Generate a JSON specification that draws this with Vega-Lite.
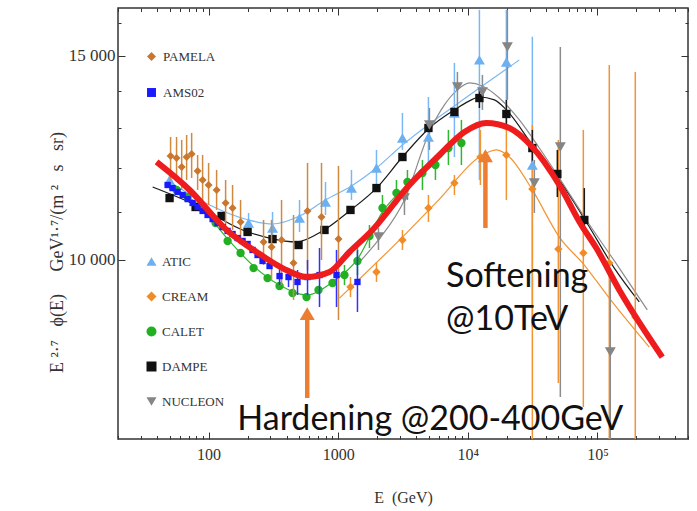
{
  "$schema": "https://vega.github.io/schema/vega-lite/v6.json",
  "width": 570,
  "height": 431,
  "autosize": "none",
  "padding": {"left": 118, "top": 8, "right": 9, "bottom": 72},
  "background": "white",
  "config": {
    "view": {"stroke": "#333", "strokeWidth": 1.5},
    "axis": {"domain": false, "grid": false, "tickColor": "#333", "tickWidth": 1, "labelFont": "Liberation Serif", "titleFont": "Liberation Serif", "labelColor": "#333", "titleColor": "#333", "titleFontWeight": "normal", "labelOverlap": false, "labelFlush": false},
    "legend": {"labelFont": "Liberation Serif", "labelFontSize": 13, "labelColor": "#333"}
  },
  "datasets": {
    "ptsA": [
      {"series": "PAMELA", "E": 50.9, "F": 12292}, {"series": "PAMELA", "E": 56.6, "F": 12242}, {"series": "PAMELA", "E": 62.0, "F": 12025}, {"series": "PAMELA", "E": 67.7, "F": 12267}, {"series": "PAMELA", "E": 74.0, "F": 12341}, {"series": "PAMELA", "E": 82.3, "F": 11932}, {"series": "PAMELA", "E": 89.9, "F": 11720}, {"series": "PAMELA", "E": 100, "F": 11603}, {"series": "PAMELA", "E": 115.3, "F": 11489}, {"series": "PAMELA", "E": 135.3, "F": 11195}, {"series": "PAMELA", "E": 153.1, "F": 11083}, {"series": "PAMELA", "E": 176.5, "F": 10780}, {"series": "PAMELA", "E": 265.5, "F": 10360}, {"series": "PAMELA", "E": 306, "F": 10255}, {"series": "PAMELA", "E": 365.5, "F": 10401}, {"series": "PAMELA", "E": 452.2, "F": 9935}, {"series": "PAMELA", "E": 579.9, "F": 11019}, {"series": "PAMELA", "E": 743.5, "F": 10886}, {"series": "PAMELA", "E": 1005, "F": 10419},
      {"series": "AMS02", "E": 48.3, "F": 11603}, {"series": "AMS02", "E": 52.7, "F": 11532}, {"series": "AMS02", "E": 57.6, "F": 11443}, {"series": "AMS02", "E": 63.1, "F": 11374}, {"series": "AMS02", "E": 68.9, "F": 11282}, {"series": "AMS02", "E": 75.3, "F": 11195}, {"series": "AMS02", "E": 82.3, "F": 11106}, {"series": "AMS02", "E": 89.9, "F": 11019}, {"series": "AMS02", "E": 98.2, "F": 10931}, {"series": "AMS02", "E": 107.4, "F": 10842}, {"series": "AMS02", "E": 117.3, "F": 10758}, {"series": "AMS02", "E": 128.3, "F": 10671}, {"series": "AMS02", "E": 140.2, "F": 10589}, {"series": "AMS02", "E": 153.1, "F": 10525}, {"series": "AMS02", "E": 167.4, "F": 10440}, {"series": "AMS02", "E": 182.9, "F": 10380}, {"series": "AMS02", "E": 199.9, "F": 10318}, {"series": "AMS02", "E": 218.4, "F": 10196}, {"series": "AMS02", "E": 238.7, "F": 10094}, {"series": "AMS02", "E": 260.8, "F": 9975}, {"series": "AMS02", "E": 295.3, "F": 9875}, {"series": "AMS02", "E": 352.7, "F": 9680}, {"series": "AMS02", "E": 413.8, "F": 9661}, {"series": "AMS02", "E": 485.5, "F": 9567}, {"series": "AMS02", "E": 579.9, "F": 9661}, {"series": "AMS02", "E": 717.5, "F": 9700}, {"series": "AMS02", "E": 970.3, "F": 9700}, {"series": "AMS02", "E": 1408, "F": 9567}
    ],
    "barsA": [
      {"series": "PAMELA", "E": 50.9, "lo": 11720, "hi": 12766}, {"series": "PAMELA", "E": 56.6, "lo": 11673, "hi": 12766}, {"series": "PAMELA", "E": 62.0, "lo": 11489, "hi": 12691}, {"series": "PAMELA", "E": 67.7, "lo": 11720, "hi": 12817}, {"series": "PAMELA", "E": 74.0, "lo": 11765, "hi": 12869}, {"series": "PAMELA", "E": 82.3, "lo": 11489, "hi": 12317}, {"series": "PAMELA", "E": 89.9, "lo": 11263, "hi": 12317}, {"series": "PAMELA", "E": 100, "lo": 11150, "hi": 12123}, {"series": "PAMELA", "E": 115.3, "lo": 11041, "hi": 11956}, {"series": "PAMELA", "E": 135.3, "lo": 10715, "hi": 11720}, {"series": "PAMELA", "E": 153.1, "lo": 10610, "hi": 11603}, {"series": "PAMELA", "E": 176.5, "lo": 10401, "hi": 11263}, {"series": "PAMELA", "E": 265.5, "lo": 9895, "hi": 10823}, {"series": "PAMELA", "E": 306, "lo": 9605, "hi": 10823}, {"series": "PAMELA", "E": 365.5, "lo": 9509, "hi": 11263}, {"series": "PAMELA", "E": 452.2, "lo": 9231, "hi": 10931}, {"series": "PAMELA", "E": 579.9, "lo": 9798, "hi": 12123}, {"series": "PAMELA", "E": 743.5, "lo": 9995, "hi": 12123}, {"series": "PAMELA", "E": 1005, "lo": 8870, "hi": 12050},
      {"series": "AMS02", "E": 352.7, "lo": 9509, "hi": 9835}, {"series": "AMS02", "E": 413.8, "lo": 9471, "hi": 9835}, {"series": "AMS02", "E": 485.5, "lo": 9322, "hi": 9798}, {"series": "AMS02", "E": 579.9, "lo": 9322, "hi": 9995}, {"series": "AMS02", "E": 717.5, "lo": 9102, "hi": 10236}, {"series": "AMS02", "E": 970.3, "lo": 9102, "hi": 10196}, {"series": "AMS02", "E": 1408, "lo": 9013, "hi": 10196}
    ],
    "ptsB": [
      {"series": "ATIC", "E": 50.0, "F": 11720}, {"series": "ATIC", "E": 203.4, "F": 10758}, {"series": "ATIC", "E": 311.5, "F": 10650}, {"series": "ATIC", "E": 503.1, "F": 10864}, {"series": "ATIC", "E": 798.2, "F": 11218}, {"series": "ATIC", "E": 1266, "F": 11533}, {"series": "ATIC", "E": 1974, "F": 12001}, {"series": "ATIC", "E": 3131, "F": 12740}, {"series": "ATIC", "E": 4969, "F": 12766}, {"series": "ATIC", "E": 7883, "F": 13391}, {"series": "ATIC", "E": 12290, "F": 14882}, {"series": "ATIC", "E": 19843, "F": 14822}, {"series": "ATIC", "E": 31483, "F": 12074},
      {"series": "CREAM", "E": 1244, "F": 9471}, {"series": "CREAM", "E": 1974, "F": 9758}, {"series": "CREAM", "E": 3131, "F": 10401}, {"series": "CREAM", "E": 4969, "F": 11083}, {"series": "CREAM", "E": 7883, "F": 11650}, {"series": "CREAM", "E": 12510, "F": 12267}, {"series": "CREAM", "E": 19844, "F": 12317}, {"series": "CREAM", "E": 31483, "F": 11509}, {"series": "CREAM", "E": 49943, "F": 10214}, {"series": "CREAM", "E": 77858, "F": 10135}, {"series": "CREAM", "E": 123500, "F": 9935}, {"series": "CREAM", "E": 196000, "F": 8922},
      {"series": "CALET", "E": 56.6, "F": 11489}, {"series": "CALET", "E": 68.9, "F": 11328}, {"series": "CALET", "E": 85.2, "F": 11106}, {"series": "CALET", "E": 113.2, "F": 10758}, {"series": "CALET", "E": 140.2, "F": 10380}, {"series": "CALET", "E": 176.5, "F": 10135}, {"series": "CALET", "E": 222.3, "F": 9835}, {"series": "CALET", "E": 285.0, "F": 9641}, {"series": "CALET", "E": 352.7, "F": 9490}, {"series": "CALET", "E": 444.2, "F": 9360}, {"series": "CALET", "E": 569.7, "F": 9284}, {"series": "CALET", "E": 704.9, "F": 9416}, {"series": "CALET", "E": 903.8, "F": 9547}, {"series": "CALET", "E": 1118, "F": 9700}, {"series": "CALET", "E": 1408, "F": 9975}, {"series": "CALET", "E": 1743, "F": 10483}, {"series": "CALET", "E": 2196, "F": 11083}, {"series": "CALET", "E": 2815, "F": 11420}, {"series": "CALET", "E": 3422, "F": 11673}, {"series": "CALET", "E": 4467, "F": 11884}, {"series": "CALET", "E": 5627, "F": 12074}, {"series": "CALET", "E": 7086, "F": 12488}, {"series": "CALET", "E": 8927, "F": 12615},
      {"series": "DAMPE", "E": 50.0, "F": 11305}, {"series": "DAMPE", "E": 79.4, "F": 11106}, {"series": "DAMPE", "E": 126.0, "F": 10909}, {"series": "DAMPE", "E": 199.9, "F": 10568}, {"series": "DAMPE", "E": 311.5, "F": 10419}, {"series": "DAMPE", "E": 494.2, "F": 10297}, {"series": "DAMPE", "E": 784.1, "F": 10610}, {"series": "DAMPE", "E": 1244, "F": 11041}, {"series": "DAMPE", "E": 1974, "F": 11532}, {"series": "DAMPE", "E": 3131, "F": 12267}, {"series": "DAMPE", "E": 4969, "F": 12996}, {"series": "DAMPE", "E": 7883, "F": 13418}, {"series": "DAMPE", "E": 12290, "F": 13795}, {"series": "DAMPE", "E": 19844, "F": 13364}, {"series": "DAMPE", "E": 31483, "F": 12488}, {"series": "DAMPE", "E": 49066, "F": 11860}, {"series": "DAMPE", "E": 79250, "F": 10823},
      {"series": "NUCLEON", "E": 2045, "F": 10461}, {"series": "NUCLEON", "E": 3245, "F": 11305}, {"series": "NUCLEON", "E": 5058, "F": 13075}, {"series": "NUCLEON", "E": 8315, "F": 14101}, {"series": "NUCLEON", "E": 12962, "F": 13963}, {"series": "NUCLEON", "E": 20199, "F": 15269}, {"series": "NUCLEON", "E": 32620, "F": 11650}, {"series": "NUCLEON", "E": 51750, "F": 12513}, {"series": "NUCLEON", "E": 125710, "F": 8323}
    ],
    "barsB": [
      {"series": "ATIC", "E": 50.0, "lo": 11489, "hi": 11908}, {"series": "ATIC", "E": 203.4, "lo": 10546, "hi": 10975}, {"series": "ATIC", "E": 311.5, "lo": 10401, "hi": 10997}, {"series": "ATIC", "E": 503.1, "lo": 10568, "hi": 11263}, {"series": "ATIC", "E": 798.2, "lo": 10931, "hi": 11673}, {"series": "ATIC", "E": 1266, "lo": 11263, "hi": 11956}, {"series": "ATIC", "E": 1974, "lo": 11556, "hi": 12441}, {"series": "ATIC", "E": 3131, "lo": 12441, "hi": 13391}, {"series": "ATIC", "E": 4969, "lo": 11956, "hi": 13823}, {"series": "ATIC", "E": 7883, "lo": 12267, "hi": 14793}, {"series": "ATIC", "E": 12290, "lo": 11720, "hi": 16439}, {"series": "ATIC", "E": 19843, "lo": 12947, "hi": 16439}, {"series": "ATIC", "E": 31483, "lo": 8746, "hi": 15579},
      {"series": "CREAM", "E": 1244, "lo": 9284, "hi": 9661}, {"series": "CREAM", "E": 1974, "lo": 9567, "hi": 9955}, {"series": "CREAM", "E": 3131, "lo": 10196, "hi": 10610}, {"series": "CREAM", "E": 4969, "lo": 10780, "hi": 11374}, {"series": "CREAM", "E": 7883, "lo": 11374, "hi": 11837}, {"series": "CREAM", "E": 12510, "lo": 11603, "hi": 12947}, {"series": "CREAM", "E": 19844, "lo": 11263, "hi": 13022}, {"series": "CREAM", "E": 31483, "lo": 6990, "hi": 13075}, {"series": "CREAM", "E": 49943, "lo": 7825, "hi": 12691}, {"series": "CREAM", "E": 77858, "lo": 7459, "hi": 12947}, {"series": "CREAM", "E": 123500, "lo": 6990, "hi": 14733}, {"series": "CREAM", "E": 196000, "lo": 6990, "hi": 14531},
      {"series": "CALET", "E": 1118, "lo": 9509, "hi": 9895}, {"series": "CALET", "E": 1408, "lo": 9700, "hi": 10297}, {"series": "CALET", "E": 1743, "lo": 10236, "hi": 10715}, {"series": "CALET", "E": 2196, "lo": 10823, "hi": 11374}, {"series": "CALET", "E": 2815, "lo": 11150, "hi": 11720}, {"series": "CALET", "E": 3422, "lo": 11263, "hi": 11956}, {"series": "CALET", "E": 4467, "lo": 11489, "hi": 12196}, {"series": "CALET", "E": 5627, "lo": 11720, "hi": 12317}, {"series": "CALET", "E": 7086, "lo": 12074, "hi": 12947}, {"series": "CALET", "E": 8927, "lo": 12074, "hi": 13207},
      {"series": "DAMPE", "E": 12290, "lo": 13523, "hi": 14072}, {"series": "DAMPE", "E": 19844, "lo": 12996, "hi": 13743}, {"series": "DAMPE", "E": 31483, "lo": 12074, "hi": 12947}, {"series": "DAMPE", "E": 49066, "lo": 11328, "hi": 12441}, {"series": "DAMPE", "E": 79250, "lo": 10546, "hi": 11532},
      {"series": "NUCLEON", "E": 2045, "lo": 10196, "hi": 10650}, {"series": "NUCLEON", "E": 3245, "lo": 10931, "hi": 11532}, {"series": "NUCLEON", "E": 5058, "lo": 12441, "hi": 13523}, {"series": "NUCLEON", "E": 8315, "lo": 13551, "hi": 14531}, {"series": "NUCLEON", "E": 12962, "lo": 13472, "hi": 14443}, {"series": "NUCLEON", "E": 20199, "lo": 13743, "hi": 16439}, {"series": "NUCLEON", "E": 32620, "lo": 10975, "hi": 12196}, {"series": "NUCLEON", "E": 51750, "lo": 7610, "hi": 15269}, {"series": "NUCLEON", "E": 125710, "lo": 6990, "hi": 9605}
    ],
    "fits": [
      {"series": "ATIC", "E": 50.0, "F": 11673}, {"series": "ATIC", "E": 101.8, "F": 11150}, {"series": "ATIC", "E": 203.4, "F": 10823}, {"series": "ATIC", "E": 311.5, "F": 10736}, {"series": "ATIC", "E": 503.1, "F": 10909}, {"series": "ATIC", "E": 798.2, "F": 11263}, {"series": "ATIC", "E": 1266, "F": 11579}, {"series": "ATIC", "E": 1974, "F": 12001}, {"series": "ATIC", "E": 3131, "F": 12564}, {"series": "ATIC", "E": 5058, "F": 13101}, {"series": "ATIC", "E": 7883, "F": 13578}, {"series": "ATIC", "E": 12290, "F": 14072}, {"series": "ATIC", "E": 24995, "F": 14882},
      {"series": "CALET", "E": 54.6, "F": 11532}, {"series": "CALET", "E": 85.2, "F": 11128}, {"series": "CALET", "E": 140.2, "F": 10422}, {"series": "CALET", "E": 222.3, "F": 9875}, {"series": "CALET", "E": 352.7, "F": 9509}, {"series": "CALET", "E": 569.7, "F": 9322}, {"series": "CALET", "E": 903.8, "F": 9567}, {"series": "CALET", "E": 1408, "F": 10012}, {"series": "CALET", "E": 2196, "F": 10997}, {"series": "CALET", "E": 3422, "F": 11603}, {"series": "CALET", "E": 5627, "F": 12123}, {"series": "CALET", "E": 8927, "F": 12900},
      {"series": "DAMPE", "E": 37.0, "F": 11556}, {"series": "DAMPE", "E": 79.4, "F": 11150}, {"series": "DAMPE", "E": 182.9, "F": 10610}, {"series": "DAMPE", "E": 295.3, "F": 10440}, {"series": "DAMPE", "E": 476.9, "F": 10360}, {"series": "DAMPE", "E": 756.8, "F": 10589}, {"series": "DAMPE", "E": 1222, "F": 11019}, {"series": "DAMPE", "E": 1974, "F": 11532}, {"series": "DAMPE", "E": 3131, "F": 12267}, {"series": "DAMPE", "E": 5058, "F": 12996}, {"series": "DAMPE", "E": 7883, "F": 13472}, {"series": "DAMPE", "E": 10290, "F": 13716}, {"series": "DAMPE", "E": 12290, "F": 13823}, {"series": "DAMPE", "E": 16037, "F": 13743}, {"series": "DAMPE", "E": 19844, "F": 13472}, {"series": "DAMPE", "E": 31483, "F": 12564}, {"series": "DAMPE", "E": 50840, "F": 11720}, {"series": "DAMPE", "E": 82114, "F": 10780}, {"series": "DAMPE", "E": 134960, "F": 9835}, {"series": "DAMPE", "E": 210400, "F": 9194},
      {"series": "NUCLEON", "E": 1460, "F": 9955}, {"series": "NUCLEON", "E": 2045, "F": 10401}, {"series": "NUCLEON", "E": 3245, "F": 11263}, {"series": "NUCLEON", "E": 5058, "F": 12895}, {"series": "NUCLEON", "E": 6601, "F": 13606}, {"series": "NUCLEON", "E": 8315, "F": 14019}, {"series": "NUCLEON", "E": 10290, "F": 14215}, {"series": "NUCLEON", "E": 12962, "F": 14129}, {"series": "NUCLEON", "E": 17525, "F": 13795}, {"series": "NUCLEON", "E": 24995, "F": 13207}, {"series": "NUCLEON", "E": 35650, "F": 12488}, {"series": "NUCLEON", "E": 50840, "F": 11765}, {"series": "NUCLEON", "E": 82114, "F": 10823}, {"series": "NUCLEON", "E": 147500, "F": 9835}, {"series": "NUCLEON", "E": 242510, "F": 9049},
      {"series": "CREAM", "E": 1023, "F": 9265}, {"series": "CREAM", "E": 3131, "F": 10461}, {"series": "CREAM", "E": 6040, "F": 11282}, {"series": "CREAM", "E": 12290, "F": 12267}, {"series": "CREAM", "E": 16617, "F": 12441}, {"series": "CREAM", "E": 20930, "F": 12267}, {"series": "CREAM", "E": 31483, "F": 11489}, {"series": "CREAM", "E": 50840, "F": 10461}, {"series": "CREAM", "E": 79250, "F": 9895}, {"series": "CREAM", "E": 123500, "F": 9265}, {"series": "CREAM", "E": 251300, "F": 8405}
    ],
    "model": [
      {"E": 39.7, "F": 12147}, {"E": 71.4, "F": 11488}, {"E": 137.7, "F": 10610}, {"E": 234.5, "F": 10155}, {"E": 372, "F": 9835}, {"E": 569.7, "F": 9661}, {"E": 856.9, "F": 9759}, {"E": 1222, "F": 10155}, {"E": 1838, "F": 10610}, {"E": 3546, "F": 11603}, {"E": 6039, "F": 12317}, {"E": 9415, "F": 12895}, {"E": 13916, "F": 13128}, {"E": 20930, "F": 12996}, {"E": 31483, "F": 12513}, {"E": 50840, "F": 11603}, {"E": 75145, "F": 10715}, {"E": 98069, "F": 10235}, {"E": 147500, "F": 9416}, {"E": 316500, "F": 8239}
    ],
    "shafts": [
      {"E": 576.8, "lo": 7595, "hi": 8900},
      {"E": 13671, "lo": 10652, "hi": 12150}
    ],
    "heads": [
      {"E": 576.8, "F": 8983},
      {"E": 13671, "F": 12298}
    ],
    "notes": [
      {"text": "Softening", "E": 6803, "F": 9477},
      {"text": "@10TeV", "E": 6803, "F": 8695},
      {"text": "Hardening @200-400GeV", "E": 166.5, "F": 7126}
    ],
    "frame": [
      {"E": 100, "F": 10000}
    ]
  },
  "layer": [
    {
      "layer": [
        {
          "data": {"name": "fits"},
          "mark": {"type": "line", "strokeWidth": 1.2, "clip": true, "interpolate": "monotone"},
          "encoding": {
            "x": {"field": "E", "type": "quantitative", "scale": {"type": "log", "domain": [20, 500000], "nice": false}, "axis": null},
            "y": {"field": "F", "type": "quantitative", "scale": {"type": "log", "domain": [7000, 16500], "nice": false}, "axis": null},
            "stroke": {"field": "series", "type": "nominal", "scale": {"domain": ["PAMELA", "AMS02", "ATIC", "CREAM", "CALET", "DAMPE", "NUCLEON"], "range": ["#d08a40", "#3030ff", "#7ab8f5", "#f39433", "#2eb82e", "#1a1a1a", "#8c8c8c"]}, "legend": null}
          }
        },
        {
          "data": {"name": "barsB"},
          "mark": {"type": "rule", "strokeWidth": 1.5, "clip": true},
          "encoding": {
            "x": {"field": "E", "type": "quantitative", "scale": {"type": "log", "domain": [20, 500000], "nice": false}, "axis": null},
            "y": {"field": "lo", "type": "quantitative", "scale": {"type": "log", "domain": [7000, 16500], "nice": false}, "axis": null},
            "y2": {"field": "hi"},
            "stroke": {"field": "series", "type": "nominal", "scale": {"domain": ["PAMELA", "AMS02", "ATIC", "CREAM", "CALET", "DAMPE", "NUCLEON"], "range": ["#d08a40", "#3030ff", "#7ab8f5", "#f39433", "#2eb82e", "#1a1a1a", "#8c8c8c"]}, "legend": null}
          }
        },
        {
          "data": {"name": "ptsB"},
          "mark": {"type": "point", "filled": true, "opacity": 1, "clip": true},
          "encoding": {
            "x": {"field": "E", "type": "quantitative", "scale": {"type": "log", "domain": [20, 500000], "nice": false}, "axis": null},
            "y": {"field": "F", "type": "quantitative", "scale": {"type": "log", "domain": [7000, 16500], "nice": false}, "axis": null},
            "color": {"field": "series", "type": "nominal", "scale": {"domain": ["ATIC", "CREAM", "CALET", "DAMPE", "NUCLEON"], "range": ["#6cb0f2", "#f28a26", "#22b022", "#111111", "#858585"]}, "legend": {"orient": "none", "legendX": 27, "legendY": 247, "title": null, "symbolSize": 100, "rowPadding": 21, "labelOffset": 4, "padding": 0, "symbolStrokeWidth": 0, "direction": "vertical"}},
            "shape": {"field": "series", "type": "nominal", "scale": {"domain": ["ATIC", "CREAM", "CALET", "DAMPE", "NUCLEON"], "range": ["triangle-up", "diamond", "circle", "square", "triangle-down"]}, "legend": {"orient": "none", "legendX": 27, "legendY": 247, "title": null, "symbolSize": 100, "rowPadding": 21, "labelOffset": 4, "padding": 0, "symbolStrokeWidth": 0, "direction": "vertical"}},
            "size": {"condition": {"test": "datum.series == 'ATIC' || datum.series == 'NUCLEON'", "value": 120}, "value": 70}
          }
        }
      ]
    },
    {
      "layer": [
        {
          "data": {"name": "barsA"},
          "mark": {"type": "rule", "strokeWidth": 1.5, "clip": true},
          "encoding": {
            "x": {"field": "E", "type": "quantitative", "scale": {"type": "log", "domain": [20, 500000], "nice": false}, "axis": null},
            "y": {"field": "lo", "type": "quantitative", "scale": {"type": "log", "domain": [7000, 16500], "nice": false}, "axis": null},
            "y2": {"field": "hi"},
            "stroke": {"field": "series", "type": "nominal", "scale": {"domain": ["PAMELA", "AMS02", "ATIC", "CREAM", "CALET", "DAMPE", "NUCLEON"], "range": ["#d08a40", "#3030ff", "#7ab8f5", "#f39433", "#2eb82e", "#1a1a1a", "#8c8c8c"]}, "legend": null}
          }
        },
        {
          "data": {"name": "ptsA"},
          "mark": {"type": "point", "filled": true, "opacity": 1, "clip": true},
          "encoding": {
            "x": {"field": "E", "type": "quantitative", "scale": {"type": "log", "domain": [20, 500000], "nice": false}, "axis": null},
            "y": {"field": "F", "type": "quantitative", "scale": {"type": "log", "domain": [7000, 16500], "nice": false}, "axis": null},
            "color": {"field": "series", "type": "nominal", "scale": {"domain": ["PAMELA", "AMS02"], "range": ["#c9772f", "#1a1aff"]}, "legend": {"orient": "none", "legendX": 27, "legendY": 42, "title": null, "symbolSize": 80, "rowPadding": 22, "labelOffset": 5, "padding": 0, "symbolStrokeWidth": 0, "direction": "vertical"}},
            "shape": {"field": "series", "type": "nominal", "scale": {"domain": ["PAMELA", "AMS02"], "range": ["diamond", "square"]}, "legend": {"orient": "none", "legendX": 27, "legendY": 42, "title": null, "symbolSize": 80, "rowPadding": 22, "labelOffset": 5, "padding": 0, "symbolStrokeWidth": 0, "direction": "vertical"}},
            "size": {"condition": {"test": "datum.series == 'AMS02'", "value": 40}, "value": 64}
          }
        }
      ]
    },
    {
      "layer": [
        {
          "data": {"name": "model"},
          "mark": {"type": "line", "color": "#ee1c1c", "strokeWidth": 6, "clip": true, "interpolate": "monotone"},
          "encoding": {
            "x": {"field": "E", "type": "quantitative", "scale": {"type": "log", "domain": [20, 500000], "nice": false}, "axis": null},
            "y": {"field": "F", "type": "quantitative", "scale": {"type": "log", "domain": [7000, 16500], "nice": false}, "axis": null}
          }
        },
        {
          "data": {"name": "shafts"},
          "mark": {"type": "rule", "color": "#ed7d31", "strokeWidth": 4.5},
          "encoding": {
            "x": {"field": "E", "type": "quantitative", "scale": {"type": "log", "domain": [20, 500000], "nice": false}, "axis": null},
            "y": {"field": "lo", "type": "quantitative", "scale": {"type": "log", "domain": [7000, 16500], "nice": false}, "axis": null},
            "y2": {"field": "hi"}
          }
        },
        {
          "data": {"name": "heads"},
          "mark": {"type": "point", "shape": "triangle-up", "filled": true, "opacity": 1, "color": "#ed7d31", "size": 225},
          "encoding": {
            "x": {"field": "E", "type": "quantitative", "scale": {"type": "log", "domain": [20, 500000], "nice": false}, "axis": null},
            "y": {"field": "F", "type": "quantitative", "scale": {"type": "log", "domain": [7000, 16500], "nice": false}, "axis": null}
          }
        },
        {
          "data": {"name": "notes"},
          "mark": {"type": "text", "align": "left", "baseline": "alphabetic", "font": "Lato", "fontSize": 34, "color": "#111"},
          "encoding": {
            "x": {"field": "E", "type": "quantitative", "scale": {"type": "log", "domain": [20, 500000], "nice": false}, "axis": null},
            "y": {"field": "F", "type": "quantitative", "scale": {"type": "log", "domain": [7000, 16500], "nice": false}, "axis": null},
            "text": {"field": "text"}
          }
        }
      ]
    },
    {
      "data": {"name": "frame"},
      "mark": {"type": "point", "opacity": 0},
      "encoding": {
        "x": {"field": "E", "type": "quantitative", "scale": {"type": "log", "domain": [20, 500000], "nice": false},
          "axis": {"orient": "bottom", "values": [20, 30, 40, 50, 60, 70, 80, 90, 100, 200, 300, 400, 500, 600, 700, 800, 900, 1000, 2000, 3000, 4000, 5000, 6000, 7000, 8000, 9000, 10000, 20000, 30000, 40000, 50000, 60000, 70000, 80000, 90000, 100000, 200000, 300000, 400000, 500000],
            "labelExpr": "datum.value == 100 ? '100' : datum.value == 1000 ? '1000' : datum.value == 10000 ? '10⁴' : datum.value == 100000 ? '10⁵' : ''",
            "tickSize": {"condition": {"test": "datum.value == 100 || datum.value == 1000 || datum.value == 10000 || datum.value == 100000", "value": -7}, "value": -3.5},
            "labelFontSize": 16, "labelPadding": 14, "title": "E\u00a0\u00a0(GeV)", "titleFontSize": 16, "titleY": 58, "titleBaseline": "middle"}},
        "y": {"field": "F", "type": "quantitative", "scale": {"type": "log", "domain": [7000, 16500], "nice": false},
          "axis": {"orient": "left", "values": [10000, 11000, 12000, 13000, 14000, 15000, 16000],
            "labelExpr": "datum.value == 10000 ? '10 000' : datum.value == 15000 ? '15 000' : ''",
            "tickSize": {"condition": {"test": "datum.value == 10000 || datum.value == 15000", "value": -7}, "value": -3},
            "labelFontSize": 17, "labelPadding": 10, "title": "E\u00a0²·⁷\u00a0\u00a0\u00a0ϕ(E)\u00a0\u00a0\u00a0\u00a0\u00a0GeV¹·⁷/(m\u00a0²\u00a0\u00a0\u00a0s\u00a0\u00a0\u00a0sr)", "titleFontSize": 18, "titleX": -61, "titleY": 244, "titleAngle": -90, "titleAlign": "center", "titleBaseline": "middle"}}
      }
    },
    {
      "data": {"name": "frame"},
      "mark": {"type": "point", "opacity": 0},
      "encoding": {
        "x": {"field": "E", "type": "quantitative", "scale": {"type": "log", "domain": [20, 500000], "nice": false},
          "axis": {"orient": "top", "values": [20, 30, 40, 50, 60, 70, 80, 90, 100, 200, 300, 400, 500, 600, 700, 800, 900, 1000, 2000, 3000, 4000, 5000, 6000, 7000, 8000, 9000, 10000, 20000, 30000, 40000, 50000, 60000, 70000, 80000, 90000, 100000, 200000, 300000, 400000, 500000],
            "labels": false, "title": null,
            "tickSize": {"condition": {"test": "datum.value == 100 || datum.value == 1000 || datum.value == 10000 || datum.value == 100000", "value": -7}, "value": -3.5}}},
        "y": {"field": "F", "type": "quantitative", "scale": {"type": "log", "domain": [7000, 16500], "nice": false},
          "axis": {"orient": "right", "values": [10000, 11000, 12000, 13000, 14000, 15000, 16000],
            "labels": false, "title": null,
            "tickSize": {"condition": {"test": "datum.value == 10000 || datum.value == 15000", "value": -7}, "value": -3}}}
      }
    }
  ],
  "resolve": {"scale": {"color": "independent", "shape": "independent"}, "axis": {"x": "independent", "y": "independent"}}
}
